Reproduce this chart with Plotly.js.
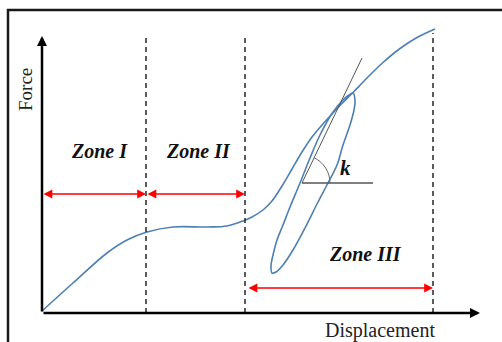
<!DOCTYPE html>
<html>
<head>
<meta charset="utf-8">
<script src="https://cdn.plot.ly/plotly-3.0.1.min.js"></script>
<style>
html,body{margin:0;padding:0;background:#fff;}
#chart{width:502px;height:342px;}
</style>
</head>
<body>
<div id="chart"></div>
<script>
// ---- data (arbitrary displacement / force units) ----
const curveDisp  = [0, 3.1, 6.5, 8.5, 10.5, 13.1, 16.5, 18.5, 20.1, 21.0, 22.1, 23.0, 24.0, 25.0, 26.0, 27.0, 28.0, 29.0, 30.0, 31.1, 32.5, 34.1, 35.8, 37.5, 39.3];
const curveForce = [0.2, 3.0, 6.0, 7.3, 8.1, 8.6, 8.6, 8.7, 9.2, 9.6, 10.3, 11.2, 12.7, 14.4, 16.1, 17.6, 18.8, 19.9, 20.95, 22.05, 23.5, 25.05, 26.45, 27.55, 28.4];

const loopDisp  = [31.1, 31.3, 31.2, 30.8, 30.1, 29.5, 28.6, 27.6, 26.3, 25.1, 24.1, 23.4, 23.0, 22.9, 23.1, 23.5, 24.1, 24.8, 25.8, 26.8, 27.8, 29.1, 30.1, 30.7, 31.1];
const loopForce = [22.0, 21.3, 20.3, 18.8, 16.8, 14.8, 13.0, 11.1, 8.5, 6.3, 4.8, 4.1, 4.0, 4.7, 5.8, 7.3, 8.8, 10.6, 13.0, 15.5, 17.8, 20.1, 21.3, 21.8, 22.0];

const zoneBounds = [0, 10.4, 20.3, 39.1];          // displacement at zone limits
const zoneLabels = ['Zone I', 'Zone II', 'Zone III'];
const zoneLabelPos = [[5.7, 16.2], [15.6, 16.2], [32.3, 5.9]];
const zoneArrowForce = [11.9, 11.9, 2.5];
const dashTop = [27.7, 27.7, 28.0];

const tangentStart = [26.0, 13.0];
const tangentEnd   = [32.0, 25.5];
const horizEnd     = 33.1;
const kLabelPos    = [30.35, 14.55];

const axisTopForce = 27.7;
const axisEndDisp  = 43.8;

const xTitle = 'Displacement';
const yTitle = 'Force';

// ---- traces ----
const curveColor = '#4d80b3';
const traces = [
  {x: curveDisp, y: curveForce, mode: 'lines', line: {color: curveColor, width: 1.6, shape: 'spline', smoothing: 1}, hoverinfo: 'skip'},
  {x: loopDisp, y: loopForce, mode: 'lines', line: {color: curveColor, width: 1.6, shape: 'spline', smoothing: 1}, hoverinfo: 'skip'}
];

const shapes = [];
// outer frame (clipped by figure edges at right and bottom)
shapes.push({type: 'rect', xref: 'x', yref: 'y', x0: -3.4, x1: 60, y0: -10, y1: 30.3, line: {color: '#1a1a1a', width: 2.5}, layer: 'below'});
// dashed zone boundaries
for (let i = 1; i < zoneBounds.length; i++) {
  shapes.push({type: 'line', xref: 'x', yref: 'y', x0: zoneBounds[i], x1: zoneBounds[i], y0: 0, y1: dashTop[i - 1],
    line: {color: '#333', width: 1.6, dash: '5px,4px'}});
}
// tangent line and horizontal reference
shapes.push({type: 'line', xref: 'x', yref: 'y', x0: tangentStart[0], y0: tangentStart[1], x1: tangentEnd[0], y1: tangentEnd[1], line: {color: '#555', width: 1}});
shapes.push({type: 'line', xref: 'x', yref: 'y', x0: tangentStart[0], y0: tangentStart[1], x1: horizEnd, y1: tangentStart[1], line: {color: '#555', width: 1.4}});
// angle arc (cubic Bezier approximation), from horizontal up to tangent direction
(function () {
  const cx = tangentStart[0], cy = tangentStart[1], r = 2.8;
  const th = Math.atan2(tangentEnd[1] - cy, tangentEnd[0] - cx);
  const kk = 4 / 3 * Math.tan(th / 4);
  const p0 = [cx + r, cy];
  const p1 = [cx + r, cy + kk * r];
  const p2 = [cx + r * (Math.cos(th) + kk * Math.sin(th)), cy + r * (Math.sin(th) - kk * Math.cos(th))];
  const p3 = [cx + r * Math.cos(th), cy + r * Math.sin(th)];
  shapes.push({type: 'path', xref: 'x', yref: 'y',
    path: `M${p0[0]},${p0[1]} C${p1[0]},${p1[1]} ${p2[0]},${p2[1]} ${p3[0]},${p3[1]}`,
    line: {color: '#666', width: 1}});
})();

const annotations = [];
const serif = 'Liberation Serif, Times New Roman, serif';
// axes arrows
annotations.push({xref: 'x', yref: 'y', axref: 'x', ayref: 'y', x: 0, y: axisTopForce, ax: 0, ay: 0, text: '', showarrow: true,
  arrowhead: 2, arrowsize: 0.8, arrowwidth: 2.5, arrowcolor: '#000'});
annotations.push({xref: 'x', yref: 'y', axref: 'x', ayref: 'y', x: axisEndDisp, y: 0, ax: 0, ay: 0, text: '', showarrow: true,
  arrowhead: 2, arrowsize: 0.8, arrowwidth: 2.5, arrowcolor: '#000'});
// zone arrows and labels
for (let i = 0; i < zoneLabels.length; i++) {
  annotations.push({xref: 'x', yref: 'y', axref: 'x', ayref: 'y', x: zoneBounds[i + 1], y: zoneArrowForce[i], ax: zoneBounds[i] + (i === 2 ? 0.2 : 0), ay: zoneArrowForce[i],
    text: '', showarrow: true, arrowside: 'end+start', arrowhead: 2, startarrowhead: 2, arrowsize: 1.1, startarrowsize: 1.1,
    arrowwidth: 1.6, arrowcolor: '#ff0000'});
  annotations.push({xref: 'x', yref: 'y', x: zoneLabelPos[i][0], y: zoneLabelPos[i][1], text: '<b><i>' + zoneLabels[i] + '</i></b>', showarrow: false,
    font: {family: serif, size: 20, color: '#111'}});
}
// k label
annotations.push({xref: 'x', yref: 'y', x: kLabelPos[0], y: kLabelPos[1], text: '<b><i>k</i></b>', showarrow: false,
  font: {family: serif, size: 21, color: '#111'}});
// axis titles
annotations.push({xref: 'x', yref: 'y', x: 33.8, y: -1.7, text: xTitle, showarrow: false, font: {family: serif, size: 20, color: '#222'}});
annotations.push({xref: 'x', yref: 'y', x: -1.7, y: 22.3, text: yTitle, showarrow: false, textangle: -90, font: {family: serif, size: 19, color: '#222'}});

const layout = {
  width: 502, height: 342,
  margin: {l: 0, r: 0, t: 0, b: 0, pad: 0},
  paper_bgcolor: '#fff', plot_bgcolor: '#fff',
  showlegend: false,
  xaxis: {range: [-4.2, 46.0], visible: false, fixedrange: true},
  yaxis: {range: [-2.9, 31.3], visible: false, fixedrange: true},
  shapes: shapes,
  annotations: annotations
};

Plotly.newPlot('chart', traces, layout, {displayModeBar: false, staticPlot: true});
</script>
</body>
</html>
